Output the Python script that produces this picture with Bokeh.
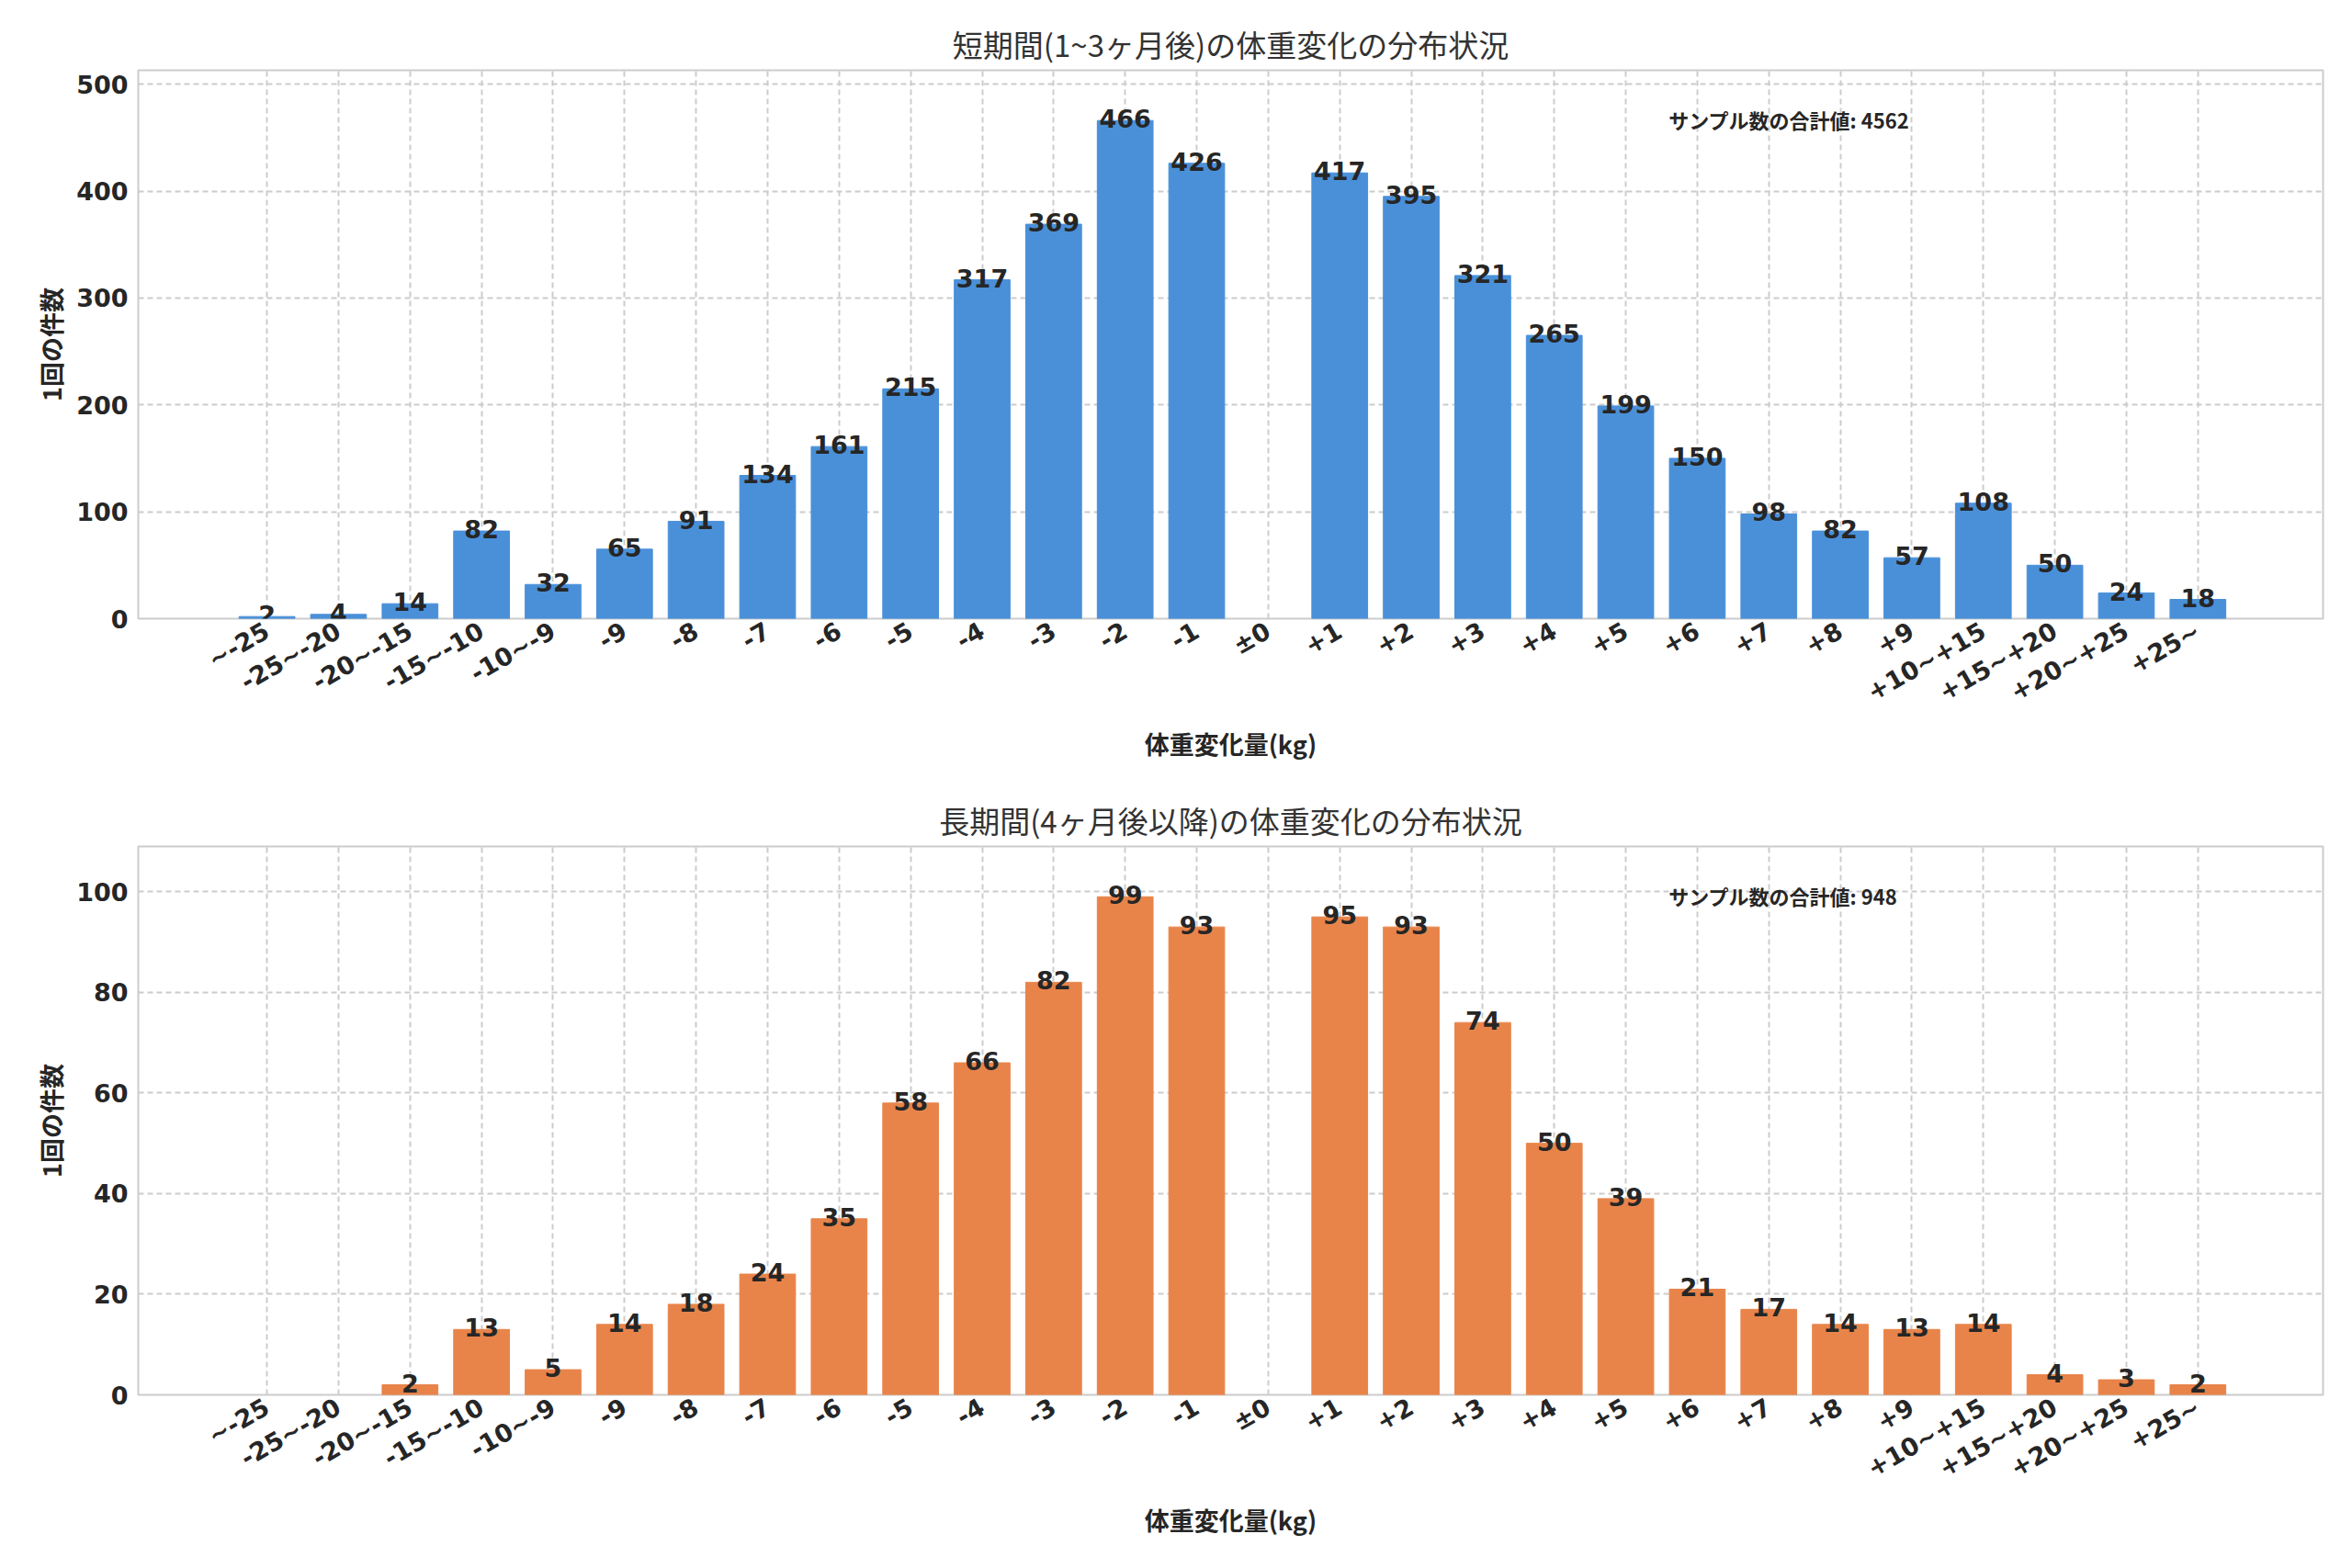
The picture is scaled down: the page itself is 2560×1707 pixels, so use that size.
from bokeh.plotting import figure
from bokeh.layouts import column
from bokeh.models import Range1d, Label, ColumnDataSource, FixedTicker
from bokeh.core.properties import value
from bokeh.embed import file_html
from bokeh.resources import INLINE

categories = ["~-25", "-25~-20", "-20~-15", "-15~-10", "-10~-9", "-9", "-8", "-7", "-6", "-5", "-4", "-3", "-2", "-1",
              "±0", "+1", "+2", "+3", "+4", "+5", "+6", "+7", "+8", "+9", "+10~+15", "+15~+20", "+20~+25", "+25~"]
short_values = [2, 4, 14, 82, 32, 65, 91, 134, 161, 215, 317, 369, 466, 426, 0, 417, 395, 321, 265, 199, 150, 98, 82, 57, 108, 50, 24, 18]
long_values = [0, 0, 2, 13, 5, 14, 18, 24, 35, 58, 66, 82, 99, 93, 0, 95, 93, 74, 50, 39, 21, 17, 14, 13, 14, 4, 3, 2]
titles = ["短期間(1~3ヶ月後)の体重変化の分布状況", "長期間(4ヶ月後以降)の体重変化の分布状況"]
totals = [4562, 948]
colors = ["#4A90D9", "#E8844A"]
ymax = [513, 109]
yticks = [[0, 100, 200, 300, 400, 500], [0, 20, 40, 60, 80, 100]]

FONT = "Noto Sans CJK JP"
NUM = "DejaVu Sans"

def make(vals, title, total, color, ym, ticks):
    x = [i for i, v in enumerate(vals) if v > 0]
    src = ColumnDataSource(dict(x=x, top=[vals[i] for i in x], lab=[str(vals[i]) for i in x]))
    p = figure(width=2544, height=845, output_backend="svg", toolbar_location=None,
               x_range=Range1d(-1.8, 28.75), y_range=Range1d(0, ym),
               min_border_left=150, min_border_right=16, min_border_top=76, min_border_bottom=172)
    p.title.text = title
    p.title.align = "center"
    p.title.text_font = FONT
    p.title.text_font_size = "33px"
    p.title.text_font_style = "normal"
    p.title.text_color = "#333333"
    p.vbar(x="x", top="top", width=0.78, color=color, source=src)
    p.text(x="x", y="top", text="lab", source=src, text_align="center", text_baseline="middle",
           text_font=value(NUM), text_font_size="27px", text_font_style="bold", text_color="#262626",
           y_offset=-2)
    p.add_layout(Label(x=19.6, y=ym * 0.91, text=f"サンプル数の合計値: {total}", text_font=FONT,
                       text_font_size="22px", text_font_style="bold", text_color="#262626",
                       text_baseline="middle"))
    p.xaxis.ticker = FixedTicker(ticks=list(range(len(categories))))
    p.xaxis.major_label_overrides = {i: c for i, c in enumerate(categories)}
    p.xaxis.major_label_orientation = 0.52
    p.yaxis.ticker = FixedTicker(ticks=ticks)
    for ax in (p.xaxis, p.yaxis):
        ax.major_label_text_font = NUM
        ax.major_label_text_font_size = "27px"
        ax.major_label_text_font_style = "bold"
        ax.major_label_text_color = "#262626"
        ax.axis_line_color = None
        ax.major_tick_line_color = None
        ax.minor_tick_line_color = None
        ax.axis_label_text_font = FONT
        ax.axis_label_text_font_size = "27px"
        ax.axis_label_text_font_style = "bold"
        ax.axis_label_text_color = "#262626"
    p.xaxis.axis_label = "体重変化量(kg)"
    p.yaxis.axis_label = "1回の件数"
    p.grid.grid_line_color = "#cccccc"
    p.grid.grid_line_dash = "6 4"
    p.grid.grid_line_width = 2
    p.outline_line_color = "#cccccc"
    p.outline_line_width = 2
    return p

figs = [make(short_values, titles[0], totals[0], colors[0], ymax[0], yticks[0]),
        make(long_values, titles[1], totals[1], colors[1], ymax[1], yticks[1])]
layout = column(*figs, spacing=0)
open("out.html", "w").write(file_html(layout, INLINE))
